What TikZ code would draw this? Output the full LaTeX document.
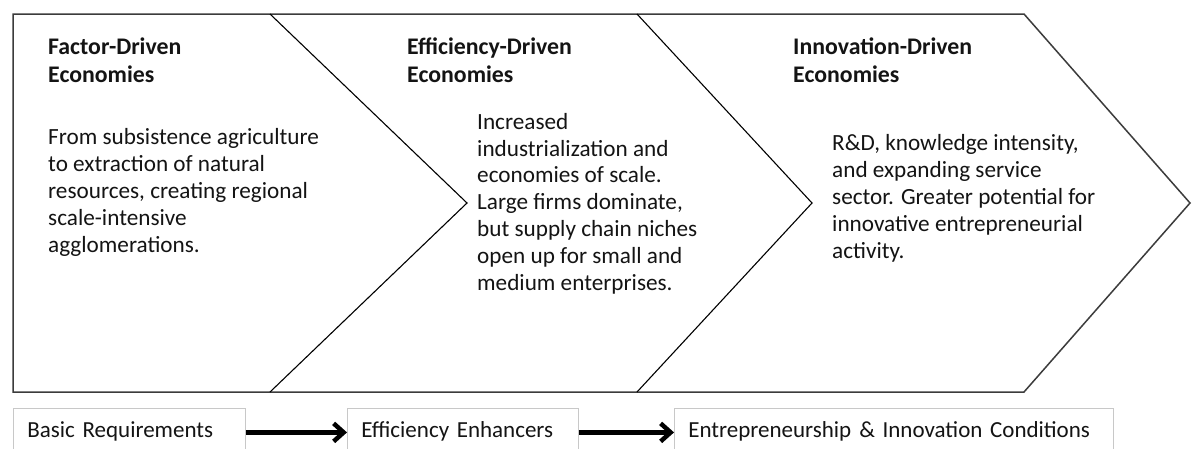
\documentclass[tikz,border=0pt]{standalone}
\usepackage{fontspec}
\setmainfont{Carlito}
\usetikzlibrary{arrows.meta}
\definecolor{ink}{RGB}{20,20,20}
\definecolor{frame}{RGB}{60,60,60}
\definecolor{boxline}{RGB}{200,200,200}
\begin{document}
\begin{tikzpicture}[x=1pt,y=-1pt,
  titletext/.style={anchor=base west, align=left, inner sep=0pt, text=ink, font=\fontsize{23.8}{27.5}\selectfont\bfseries},
  bodytext/.style={anchor=base west, align=left, inner sep=0pt, text=ink, font=\fontsize{23.2}{26.8}\selectfont},
  stagebox/.style={draw=boxline, line width=0.8pt, fill=white, anchor=north west, minimum height=48pt,
    inner xsep=14pt, inner ysep=0pt, align=left, text=ink, text height=15pt, text depth=5pt,
    font=\fontsize{23}{26}\selectfont},
  flow/.style={line width=4.5pt, draw=black, -{Straight Barb[length=10pt,width=18pt,line width=4.5pt]}},
  outline/.style={draw=frame, line width=1.5pt, line join=miter},
  divider/.style={draw=black, line width=1.1pt}]
\useasboundingbox (0,0) rectangle (1192,448);
\fill[white] (0,0) rectangle (1192,448);

% chevron band
\draw[outline] (13,14) -- (1024,14) -- (1190,203) -- (1024,392) -- (13,392) -- cycle;
\draw[divider] (270,14) -- (467,203) -- (270,392);
\draw[divider] (637,14) -- (812,203) -- (637,392);

% titles (base anchor = last line)
\node[titletext] (t1) at (48,82) {Factor-Driven\\Economies};
\node[titletext] (t2) at (407,82) {Efficiency-Driven\\Economies};
\node[titletext] (t3) at (793,82) {Innovation-Driven\\Economies};

% bodies (base anchor = last line)
\node[bodytext] (b1) at (48,252) {From subsistence agriculture\\to extraction of natural\\resources, creating regional\\scale-intensive\\agglomerations.};
\node[bodytext] (b2) at (477,290) {Increased\\industrialization and\\economies of scale.\\Large firms dominate,\\but supply chain niches\\open up for small and\\medium enterprises.};
\node[bodytext] (b3) at (832,258) {R\&D, knowledge intensity,\\and expanding service\\sector. Greater potential for\\innovative entrepreneurial\\activity.};

% bottom boxes
\node[stagebox, minimum width=232pt, text width=204pt] (basic) at (13,408) {Basic Requirements};
\node[stagebox, minimum width=231pt, text width=203pt] (enh) at (347,408) {Efficiency Enhancers};
\node[stagebox, minimum width=439pt, text width=411pt] (inno) at (674,408) {Entrepreneurship\hspace{8pt}\&\ Innovation Conditions};

\draw[flow] (basic.east) -- (enh.west);
\draw[flow] (enh.east) -- (inno.west);
\end{tikzpicture}
\end{document}
